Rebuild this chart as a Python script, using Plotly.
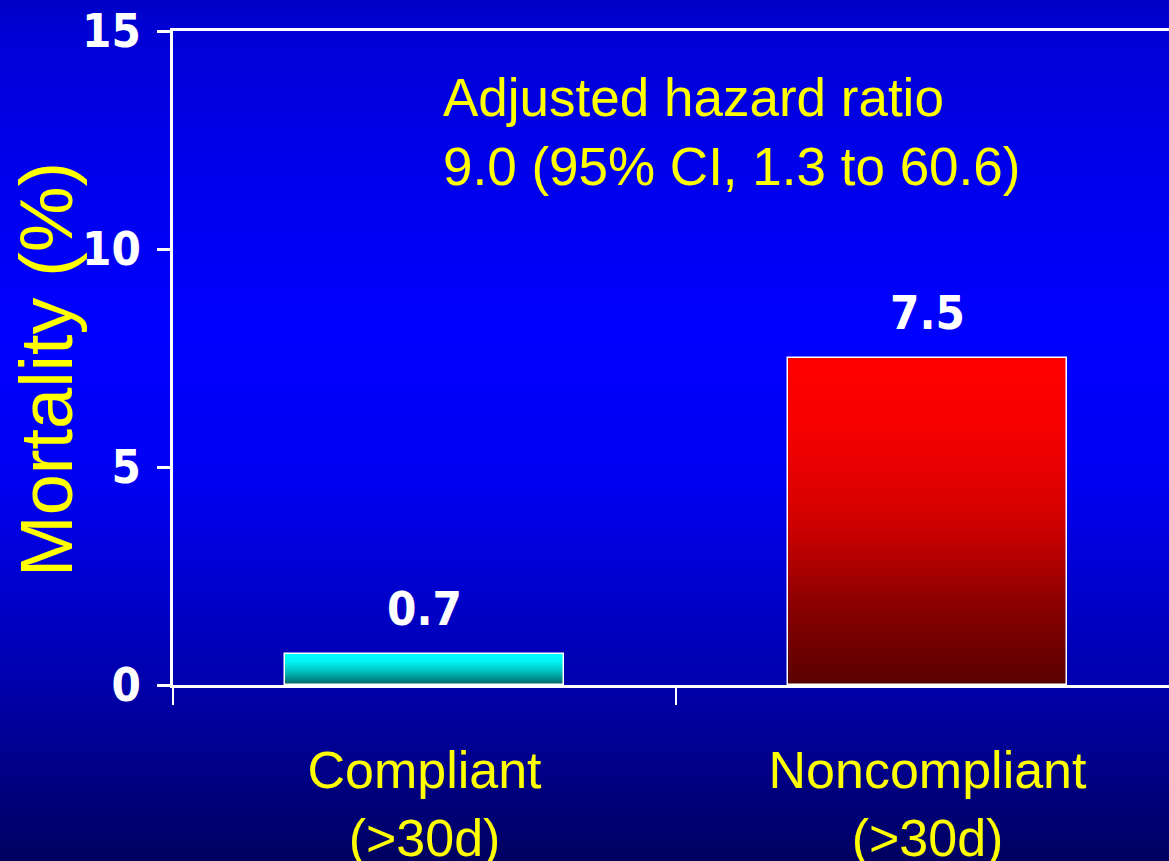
import plotly.graph_objects as go

# ---------------- data ----------------
categories = ["Compliant<br>(>30d)", "Noncompliant<br>(>30d)"]
mortality = [0.7, 7.5]
value_labels = ["0.7", "7.5"]
y_ticks = [0, 5, 10, 15]
y_title = "Mortality (%)"
hr_text = ["Adjusted hazard ratio", "9.0 (95% CI, 1.3 to 60.6)"]

# ---------------- layout geometry ----------------
W, H = 1169, 861
L, T, B, R = 173, 31, 176, 0
PW, PH = W - L - R, H - T - B

NARROW_BOLD = "Liberation Sans Narrow, Arial Narrow, DejaVu Sans Condensed, sans-serif"
ARIAL = "Liberation Sans, Arial, sans-serif"
YELLOW = "#ffff00"


def interp(stops, t):
    for (t0, c0), (t1, c1) in zip(stops[:-1], stops[1:]):
        if t0 <= t <= t1:
            f = 0 if t1 == t0 else (t - t0) / (t1 - t0)
            return tuple(round(a + (b - a) * f) for a, b in zip(c0, c1))
    return stops[-1][1]


# bar gradients: t = 0 at bar top, 1 at bar bottom
bar_grads = [
    [(0.0, (0, 255, 255)), (0.2, (0, 245, 245)), (0.55, (0, 190, 190)), (1.0, (0, 95, 95))],
    [(0.0, (255, 0, 0)), (0.2, (248, 0, 0)), (0.5, (210, 0, 0)), (0.75, (140, 0, 0)), (1.0, (88, 0, 0))],
]

fig = go.Figure()

N = 60
for i in range(N):
    t = 1 - (i + 0.5) / N
    cols = ["rgb(%d,%d,%d)" % interp(g, t) for g in bar_grads]
    fig.add_trace(go.Bar(
        x=categories,
        y=[v / N for v in mortality],
        base=[v * i / N for v in mortality],
        width=0.555,
        marker=dict(color=cols, line=dict(width=0)),
        hoverinfo="skip",
        showlegend=False,
    ))

# outline
fig.add_trace(go.Bar(
    x=categories, y=mortality, width=0.555,
    marker=dict(color="rgba(0,0,0,0)", line=dict(color="white", width=1.5)),
    showlegend=False,
))

# value labels
for c, v, lab in zip(categories, mortality, value_labels):
    fig.add_annotation(x=c, y=v, text=lab, showarrow=False, yanchor="bottom",
                       yshift=16, font=dict(family=NARROW_BOLD, size=47, color="white", weight="bold"))

# hazard ratio text
fig.add_annotation(xref="paper", yref="paper", x=(441 - L) / PW, y=(T + PH - 66) / PH,
                   xanchor="left", yanchor="top", align="left", showarrow=False,
                   text="<br>".join(hr_text), font=dict(family=ARIAL, size=53, color=YELLOW))

# y-axis title
fig.add_annotation(xref="paper", yref="paper", x=(46 - L) / PW, y=(T + PH - 370) / PH,
                   xanchor="center", yanchor="middle", textangle=-90, showarrow=False,
                   text=y_title, font=dict(family=ARIAL, size=74, color=YELLOW))

# background gradient (figure pixel y -> colour)
bg_stops = [(0, (0, 0, 200)), (31, (0, 0, 212)), (165, (0, 0, 235)), (330, (0, 0, 255)),
            (480, (0, 0, 242)), (605, (0, 0, 200)), (690, (0, 0, 170)), (861, (0, 0, 96))]
shapes = []
NS = 172
for k in range(NS):
    y0 = H * k / NS
    y1 = H * (k + 1) / NS + 1.0
    c = interp(bg_stops, (y0 + y1) / 2)
    shapes.append(dict(type="rect", xref="paper", yref="paper", layer="below",
                       x0=-L / PW - 0.01, x1=1.01,
                       y0=(T + PH - y1) / PH, y1=(T + PH - y0) / PH,
                       fillcolor="rgb(%d,%d,%d)" % c, line=dict(width=0)))

fig.update_layout(
    width=W, height=H,
    margin=dict(l=L, r=R, t=T, b=B, autoexpand=False),
    paper_bgcolor="rgb(0,0,180)", plot_bgcolor="rgba(0,0,0,0)",
    barmode="overlay", bargap=0,
    shapes=shapes,
    showlegend=False,
    xaxis=dict(
        type="category", range=[-0.5, -0.5 + PW / 503.0],
        showline=True, linecolor="white", linewidth=3, mirror=True,
        ticks="outside", tickson="boundaries", ticklen=17, tickwidth=2, tickcolor="white",
        showgrid=False, zeroline=False,
        tickfont=dict(family=ARIAL, size=52, color=YELLOW),
        ticklabelstandoff=38,
    ),
    yaxis=dict(
        range=[0, 15], tickvals=y_ticks, ticktext=[str(v) for v in y_ticks],
        showline=True, linecolor="white", linewidth=2.5,
        ticks="outside", ticklen=13, tickwidth=2.5, tickcolor="white",
        showgrid=False, zeroline=False,
        tickfont=dict(family=NARROW_BOLD, size=47, color="white", weight="bold"),
        ticklabelstandoff=7,
    ),
)

fig.write_html("out.html", config={"displayModeBar": False},
               post_script="document.body.style.margin='0px';")
